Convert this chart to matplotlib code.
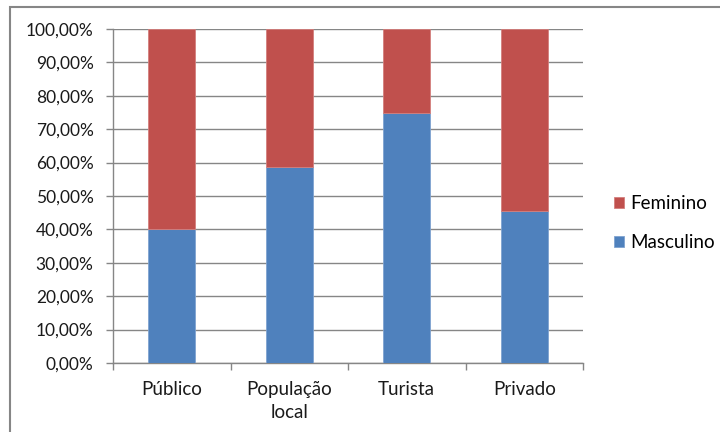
import matplotlib
matplotlib.use("Agg")
import matplotlib.pyplot as plt
from matplotlib.patches import Rectangle
from matplotlib.ticker import FuncFormatter, FixedLocator
import numpy as np

categories = ["Público", "População\nlocal", "Turista", "Privado"]
masculino = [40.0, 58.6, 75.0, 45.5]
feminino = [100 - m for m in masculino]
y_ticks = [0, 10, 20, 30, 40, 50, 60, 70, 80, 90, 100]

blue = "#4F81BD"
red = "#C0504D"
grey = "#868686"

plt.rcParams["font.family"] = ["Lato", "DejaVu Sans"]

fig = plt.figure(figsize=(7.2, 4.32), dpi=100)
ax = fig.add_axes([113 / 720, 1 - 363 / 432, 470 / 720, 334 / 432])

x = np.arange(len(categories))
width = 0.4
ax.bar(x, masculino, width, color=blue, edgecolor="#7fa3d0", linewidth=0.6,
       label="Masculino", zorder=3)
ax.bar(x, feminino, width, bottom=masculino, color=red, edgecolor="#d47f7d",
       linewidth=0.6, label="Feminino", zorder=3)

ax.set_xlim(-0.5, len(categories) - 0.5)
ax.set_ylim(0, 100)
ax.set_yticks(y_ticks)
ax.yaxis.set_major_formatter(FuncFormatter(lambda v, p: f"{v:.2f}%".replace(".", ",")))
ax.yaxis.grid(True, color=grey, linewidth=1.0, zorder=0)
ax.set_axisbelow(True)

# category labels centred under the bars, tick marks at category boundaries
ax.set_xticks(x)
ax.set_xticklabels(categories, fontsize=13.5, color="#1a1a1a", linespacing=1.45)
ax.tick_params(axis="x", which="major", length=0, pad=13)
ax.xaxis.set_minor_locator(FixedLocator(np.arange(-0.5, len(categories), 1.0)))
ax.tick_params(axis="x", which="minor", length=5, color=grey, width=1.0)
ax.tick_params(axis="y", length=5, color=grey, width=1.0, pad=9,
               labelsize=12.5, labelcolor="#1a1a1a")

for side in ["top", "right"]:
    ax.spines[side].set_visible(False)
for side in ["left", "bottom"]:
    ax.spines[side].set_color(grey)
    ax.spines[side].set_linewidth(1.0)

handles, labels = ax.get_legend_handles_labels()
ax.legend(handles[::-1], labels[::-1], loc="center left",
          bbox_to_anchor=(597 / 720, 1 - 223 / 432), bbox_transform=fig.transFigure,
          frameon=False, fontsize=13.5, handlelength=0.55, handleheight=0.55,
          handletextpad=0.35, labelspacing=1.15)

# chart area border
fig.patches.append(Rectangle((9.5 / 720, -0.05), 1.2, 1 - 6.5 / 432 + 0.05,
                             transform=fig.transFigure, fill=False,
                             edgecolor=grey, linewidth=1.5))

fig.savefig("out.png", dpi=100)
